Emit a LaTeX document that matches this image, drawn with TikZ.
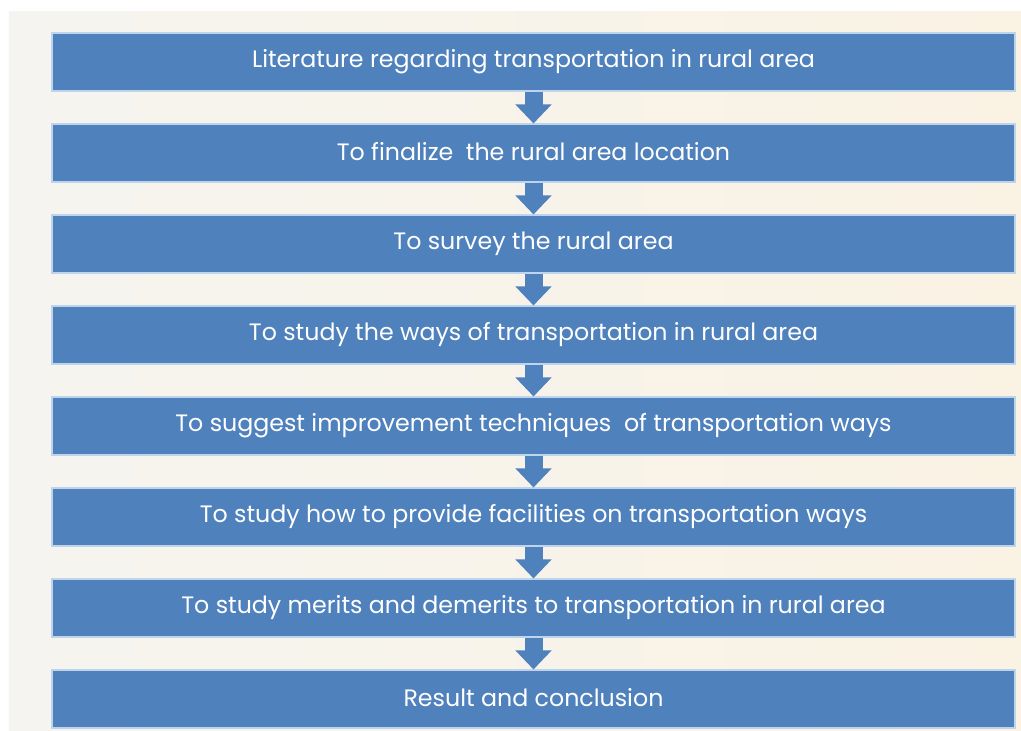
\documentclass[tikz,border=0pt]{standalone}
\usepackage{fontspec}
\setmainfont{Poppins}
\usetikzlibrary{arrows.meta}

\definecolor{boxblue}{RGB}{79,129,189}
\definecolor{boxedge}{RGB}{190,212,236}
\definecolor{paperleft}{RGB}{246,244,240}
\definecolor{paperright}{RGB}{250,243,228}

\tikzset{
  stepbox/.style={fill=boxblue, draw=boxedge, line width=0.6pt,
    minimum width=19.26cm, minimum height=1.16cm, inner sep=0pt,
    text=white, font=\fontsize{13.5}{15}\selectfont},
  flowarrow/.style={draw=boxblue, line width=0.36cm,
    -{Triangle[width=0.7cm, length=0.38cm]}}
}

\begin{document}
\begin{tikzpicture}
\useasboundingbox (0,0) rectangle (20.42,-14.62);
\fill[left color=paperleft, right color=paperright] (0.18,-0.24) rectangle (20.42,-14.62);
\foreach \txt [count=\i] in {Literature regarding transportation in rural area,
  To finalize\ \ the rural area location,
  To survey the rural area,
  To study the ways of transportation in rural area,
  To suggest improvement techniques\ \ of transportation ways,
  To study how to provide facilities on transportation ways,
  To study merits and demerits to transportation in rural area,
  Result and conclusion}
  \node[stepbox] (s\i) at (10.67,{-1.24-1.82*(\i-1)}) {\raisebox{1.5pt}{\txt}};
\foreach \i [evaluate=\i as \j using int(\i+1)] in {1,...,7}
  \draw[flowarrow] (s\i.south) -- (s\j.north);
\end{tikzpicture}
\end{document}
